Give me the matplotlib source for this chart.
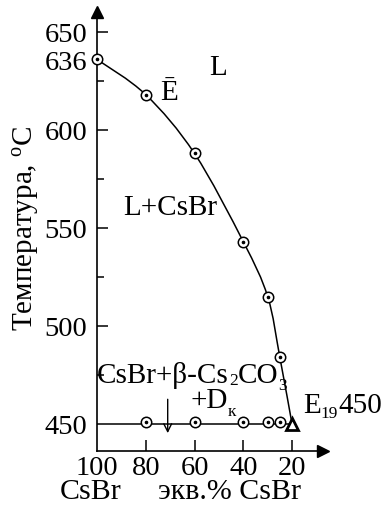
import matplotlib
matplotlib.use("Agg")
import matplotlib.pyplot as plt
import numpy as np
from matplotlib.path import Path
from matplotlib.patches import PathPatch

plt.rcParams['font.family'] = ['Liberation Serif', 'DejaVu Serif']
plt.rcParams['mathtext.fontset'] = 'custom'
plt.rcParams['mathtext.rm'] = 'Liberation Serif'
plt.rcParams['mathtext.it'] = 'Liberation Serif:italic'
plt.rcParams['mathtext.bf'] = 'Liberation Serif:bold'

# Liquidus data (eq.% CsBr, temperature °C)
liq_x = [100, 80, 60, 40, 30, 25, 20]
liq_t = [636, 618, 588, 543, 515, 484, 450]
# Eutectic-horizontal thermal effects
eut_x = [80, 60, 40, 30, 25]
eut_t = [451, 451, 451, 451, 451]
# Eutectic point E19
e_x, e_t = 20, 450
yticks = [450, 500, 550, 600, 636, 650]
yminor = [475, 525, 575, 625]
xticks = [100, 80, 60, 40, 20]

fig = plt.figure(figsize=(3.82, 5.06), dpi=100)
ax = fig.add_axes([97/382, 1-452/506, (323-97)/382, (452-13)/506])
ax.set_xlim(100, 7.3)
ax.set_ylim(436.2, 660.2)

for s in ['top', 'right']:
    ax.spines[s].set_visible(False)
for s in ['left', 'bottom']:
    ax.spines[s].set_linewidth(1.2)

# arrows at axis ends
ax.plot(1, 0, marker='>', color='k', ms=9, transform=ax.transAxes, clip_on=False)
ax.plot(0, 1, marker='^', color='k', ms=9, transform=ax.transAxes, clip_on=False)

fs = 21
sub = 12.5
# ticks
ax.set_yticks(yticks)
ax.set_yticklabels([str(v) for v in yticks])
ax.set_yticks(yminor, minor=True)
ax.set_xticks(xticks)
ax.set_xticklabels([str(v) for v in xticks])
ax.tick_params(axis='both', which='major', direction='in', length=8, width=1.1,
               labelsize=20.5, pad=7)
ax.tick_params(axis='y', which='minor', direction='in', length=5, width=1.1)
ax.tick_params(axis='x', which='major', pad=3)
for t in ax.yaxis.get_major_ticks():
    if abs(t.get_loc() - 636) < 0.1 or abs(t.get_loc() - 450) < 0.1:
        t.tick1line.set_visible(False)
for t in ax.xaxis.get_major_ticks():
    if abs(t.get_loc() - 100) < 0.1:
        t.tick1line.set_visible(False)

# smooth liquidus via Catmull-Rom -> cubic Bezier
P = np.column_stack([liq_x, liq_t]).astype(float)
Pe = np.vstack([P[0], P, P[-1]])
verts = [tuple(P[0])]
codes = [Path.MOVETO]
for i in range(1, len(Pe) - 2):
    p0, p1, p2, p3 = Pe[i-1], Pe[i], Pe[i+1], Pe[i+2]
    c1 = p1 + (p2 - p0) / 6
    c2 = p2 - (p3 - p1) / 6
    verts += [tuple(c1), tuple(c2), tuple(p2)]
    codes += [Path.CURVE4] * 3
ax.add_patch(PathPatch(Path(verts, codes), fill=False, lw=1.1, color='k'))

# eutectic horizontal
ax.plot([100, e_x], [e_t, e_t], color='k', lw=1.1)

# markers
mx = liq_x[:-1] + eut_x
mt = liq_t[:-1] + eut_t
ax.plot(mx, mt, 'o', ms=7.5, mfc='white', mec='k', mew=1.1, clip_on=False, zorder=5)
ax.plot(mx, mt, 'o', ms=1.6, color='k', clip_on=False, zorder=6)
ax.plot([e_x], [e_t], '^', ms=9, mfc='white', mec='k', mew=2.0, zorder=6, clip_on=False)

# arrow
ax.annotate('', xy=(71, 443.9), xytext=(71, 464),
            arrowprops=dict(arrowstyle='->', lw=1.0, color='k', mutation_scale=14))

renderer = fig.canvas.get_renderer()


def rich(x, y, pieces):
    dx = 0.0
    for s, size, dy in pieces:
        t = ax.annotate(s, xy=(x, y), xycoords='data', xytext=(dx, dy),
                        textcoords='offset pixels', fontsize=size, ha='left',
                        va='baseline', annotation_clip=False)
        dx += t.get_window_extent(renderer).width


ax.text(50.4, 632, 'L', fontsize=fs, ha='center', va='center')
ax.text(70.5, 615.8, 'Ē', fontsize=fs, ha='center', va='baseline')
ax.text(70, 557.1, 'L+CsBr', fontsize=fs, ha='center', va='baseline')
rich(100, 471.2, [('CsBr+β-Cs', fs, 0), ('2', sub, -2), ('CO', fs, 0), ('3', sub, -7)])
rich(61.8, 458.9, [('+D', fs, 0), ('к', sub, -8)])
rich(15.5, 456.1, [('E', fs, 0), ('19', sub, -5), ('450', fs, 0)])

fig.text(26/382, 1-228/506, 'Температура, $^{\\mathrm{o}}$C', fontsize=fs, rotation=90,
         ha='center', va='center')
fig.text(91/382, 1-499/506, 'CsBr', fontsize=21.5, ha='center', va='baseline')
fig.text(229/382, 1-499/506, 'экв.% CsBr', fontsize=21.5, ha='center', va='baseline')

fig.savefig('out.png', dpi=100)
